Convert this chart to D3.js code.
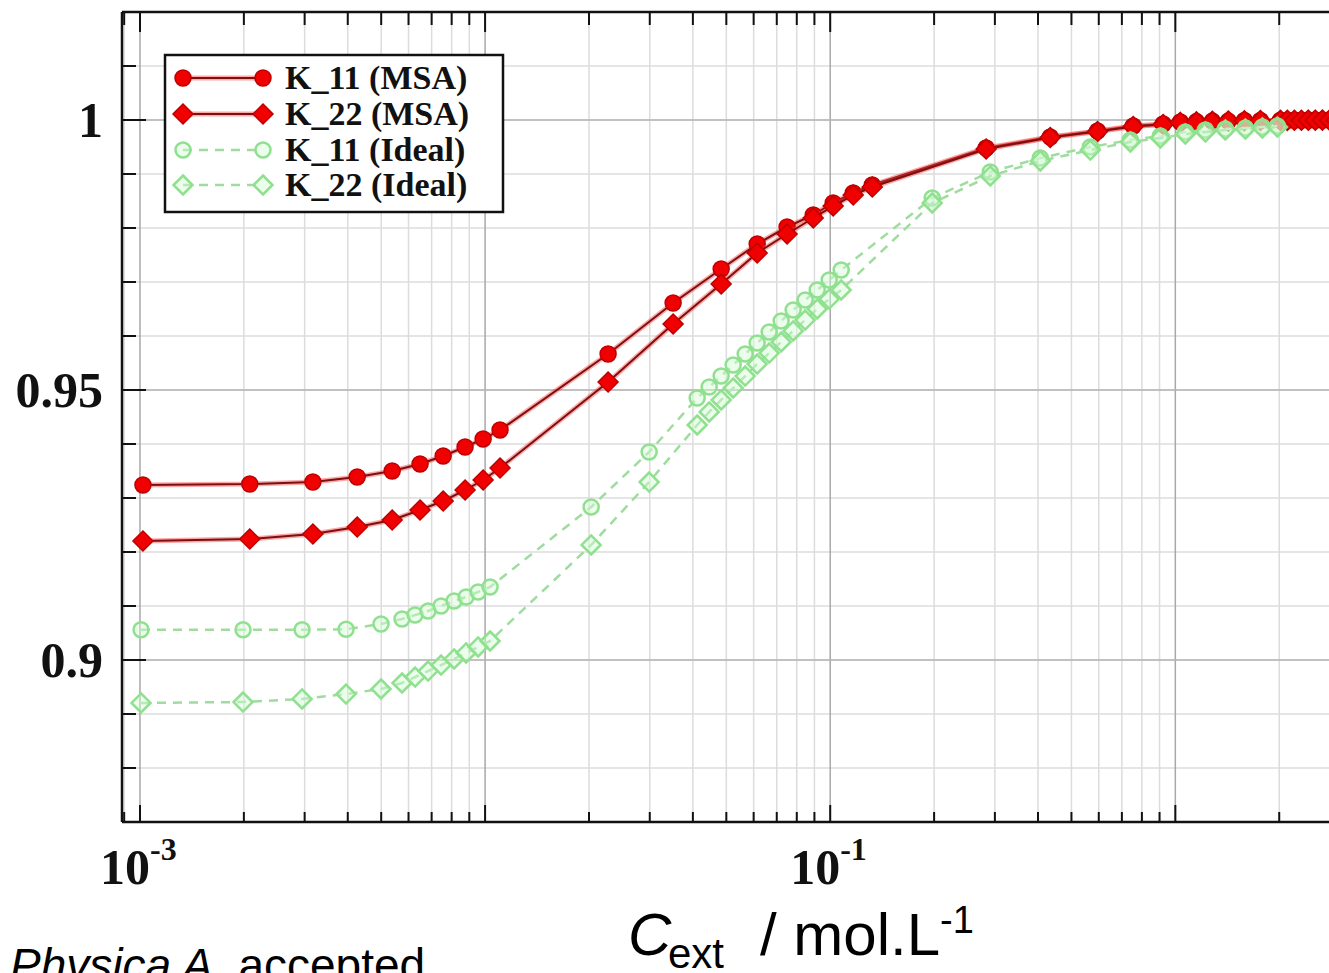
<!DOCTYPE html>
<html>
<head>
<meta charset="utf-8">
<script src="https://cdn.jsdelivr.net/npm/d3@7"></script>
<style>
  html, body { margin: 0; padding: 0; background: #fff; overflow: hidden; }
  svg { display: block; }
</style>
</head>
<body>
<svg id="chart" width="1329" height="973"></svg>
<script>
// ---------- data ----------
const seriesNames = ["K_11 (MSA)", "K_22 (MSA)", "K_11 (Ideal)", "K_22 (Ideal)"];

// external salt concentration (mol/L) for the MSA curves
const cMSA = [0.00102, 0.00208, 0.00317, 0.00426, 0.00538, 0.00648, 0.00756, 0.00875, 0.00987, 0.01105,
  0.02272, 0.03506, 0.04831, 0.06143, 0.0750, 0.0893, 0.1020, 0.1166, 0.1324,
  0.283, 0.434, 0.595, 0.755, 0.922,
  1.034, 1.151, 1.280, 1.424, 1.585, 1.764,
  2.016, 2.111, 2.213, 2.319, 2.429, 2.545, 2.668, 2.795, 2.929];
const k11MSA = [0.93241, 0.93259, 0.93296, 0.93389, 0.935, 0.9363, 0.93778, 0.93944, 0.94093, 0.94259,
  0.95667, 0.96611, 0.97241, 0.97704, 0.98019, 0.98241, 0.98463, 0.98648, 0.98796,
  0.99481, 0.99685, 0.99796, 0.99889, 0.99926,
  0.99963, 0.9997, 0.9998, 0.9998, 0.9999, 0.9999,
  0.99995, 0.99996, 0.99997, 0.99997, 0.99998, 0.99998, 0.99999, 0.99999, 0.99999];
const k22MSA = [0.92204, 0.92241, 0.92333, 0.92463, 0.92593, 0.92778, 0.92944, 0.93148, 0.93333, 0.93556,
  0.95148, 0.96222, 0.96963, 0.97537, 0.97889, 0.98185, 0.98407, 0.98611, 0.98759,
  0.99463, 0.99676, 0.99787, 0.9988, 0.99917,
  0.99955, 0.99965, 0.99975, 0.9998, 0.99985, 0.9999,
  0.99993, 0.99994, 0.99995, 0.99996, 0.99997, 0.99997, 0.99998, 0.99998, 0.99999];

// external salt concentration (mol/L) for the ideal curves
const cIdeal = [0.001007, 0.001989, 0.002949, 0.003955, 0.004994, 0.005745, 0.006268, 0.006836, 0.007456,
  0.008132, 0.008811, 0.009544, 0.010339,
  0.02029, 0.02988,
  0.04117, 0.04460, 0.04831, 0.05234, 0.05670, 0.06142, 0.06654, 0.07209, 0.07809, 0.08460, 0.09169,
  0.09933, 0.10760,
  0.1975, 0.2909, 0.4062, 0.567, 0.7407, 0.905, 1.069, 1.222, 1.396, 1.596, 1.787, 1.976];
const k11Ideal = [0.9056, 0.9056, 0.9056, 0.9057, 0.90667, 0.90759, 0.90833, 0.90907, 0.91, 0.91093,
  0.91167, 0.91259, 0.91352,
  0.92833, 0.93852,
  0.94852, 0.95056, 0.95259, 0.95463, 0.95667, 0.9587, 0.96074, 0.96278, 0.96481, 0.96667, 0.96852,
  0.97037, 0.97222,
  0.98556, 0.99037, 0.99296, 0.995, 0.9963, 0.99704, 0.99778, 0.99815, 0.99833, 0.99852, 0.9987, 0.99889];
const k22Ideal = [0.89204, 0.89222, 0.89278, 0.8937, 0.89463, 0.89574, 0.89685, 0.89796, 0.89907, 0.90019,
  0.9013, 0.90241, 0.90352,
  0.9213, 0.93296,
  0.94352, 0.94593, 0.94815, 0.95037, 0.95259, 0.95481, 0.95685, 0.95889, 0.96093, 0.96296, 0.965,
  0.96685, 0.96852,
  0.98463, 0.98963, 0.99241, 0.99444, 0.99593, 0.99667, 0.99741, 0.99778, 0.99815, 0.99833, 0.99852, 0.9987];

const yTickValues = [0.9, 0.95, 1];
const yTickLabels = ["0.9", "0.95", "1"];
const xLabelExponents = [-3, -1];
const xDomain = [0.000887, 3.0];
const yDomain = [0.87, 1.02];

// ---------- layout ----------
const W = 1329, H = 973;
const plot = { left: 122, right: 1340, top: 12, bottom: 822 };

const svg = d3.select("#chart");
const x = d3.scaleLog().domain(xDomain).range([plot.left, plot.right]);
const y = d3.scaleLinear().domain(yDomain).range([plot.bottom, plot.top]);

// tick positions on the log axis
const xMajor = [];
const xMinor = [];
for (let e = -4; e <= 1; e++) {
  for (let m = 1; m <= 9; m++) {
    const v = m * Math.pow(10, e);
    if (v < xDomain[0] || v > xDomain[1]) continue;
    (m === 1 ? xMajor : xMinor).push(v);
  }
}
const yMinor = d3.range(0, 16).map(i => +(0.87 + i * 0.01).toFixed(2)).filter(v => v <= 1.02);

const serif = "'Liberation Serif','Times New Roman',serif";
const sans = "'Liberation Sans',Arial,sans-serif";

// ---------- grid ----------
const grid = svg.append("g");
grid.selectAll("line.vmin").data(xMinor).join("line")
  .attr("x1", d => x(d)).attr("x2", d => x(d))
  .attr("y1", plot.top).attr("y2", plot.bottom)
  .attr("stroke", "#dcdcdc").attr("stroke-width", 1.5);
grid.selectAll("line.hmin").data(yMinor).join("line")
  .attr("x1", plot.left).attr("x2", plot.right)
  .attr("y1", d => y(d)).attr("y2", d => y(d))
  .attr("stroke", "#dcdcdc").attr("stroke-width", 1.5);
grid.selectAll("line.vmaj").data(xMajor).join("line")
  .attr("x1", d => x(d)).attr("x2", d => x(d))
  .attr("y1", plot.top).attr("y2", plot.bottom)
  .attr("stroke", "#a8a8a8").attr("stroke-width", 1.5);
grid.selectAll("line.hmaj").data(yTickValues).join("line")
  .attr("x1", plot.left).attr("x2", plot.right)
  .attr("y1", d => y(d)).attr("y2", d => y(d))
  .attr("stroke", "#b4b4b4").attr("stroke-width", 1.5);

// ---------- marker shapes ----------
const circlePath = r => `M${-r},0A${r},${r} 0 1,0 ${r},0A${r},${r} 0 1,0 ${-r},0Z`;
const diamondPath = r => `M0,${-r}L${r},0L0,${r}L${-r},0Z`;

const styles = [
  { c: cMSA, v: k11MSA, shape: circlePath(8), kind: "msa" },
  { c: cMSA, v: k22MSA, shape: diamondPath(10), kind: "msa" },
  { c: cIdeal, v: k11Ideal, shape: circlePath(7.5), kind: "ideal" },
  { c: cIdeal, v: k22Ideal, shape: diamondPath(9.5), kind: "ideal" }
];

const line = d3.line().x(d => x(d[0])).y(d => y(d[1]));

const dataG = svg.append("g");

function drawSeries(s) {
  const pts = s.c.map((c, i) => [c, s.v[i]]);
  const g = dataG.append("g");
  if (s.kind === "msa") {
    g.append("path").datum(pts).attr("d", line)
      .attr("fill", "none").attr("stroke", "rgba(255,60,60,0.45)").attr("stroke-width", 5);
    g.append("path").datum(pts).attr("d", line)
      .attr("fill", "none").attr("stroke", "#7a1010").attr("stroke-width", 2);
    g.selectAll("path.m").data(pts).join("path")
      .attr("transform", d => `translate(${x(d[0])},${y(d[1])})`)
      .attr("d", s.shape)
      .attr("fill", "#f00000").attr("stroke", "#c00000").attr("stroke-width", 1.5);
  } else {
    g.append("path").datum(pts).attr("d", line)
      .attr("fill", "none").attr("stroke", "#9fdc9f").attr("stroke-width", 2.5)
      .attr("stroke-dasharray", "9,7");
    g.selectAll("path.m").data(pts).join("path")
      .attr("transform", d => `translate(${x(d[0])},${y(d[1])})`)
      .attr("d", s.shape)
      .attr("fill", "rgba(210,250,210,0.45)").attr("stroke", "#8fe08f").attr("stroke-width", 2.5);
  }
}
styles.forEach(drawSeries);

// ---------- frame and ticks ----------
const axes = svg.append("g").attr("stroke", "#111");
axes.append("line").attr("x1", plot.left).attr("x2", plot.right).attr("y1", plot.top).attr("y2", plot.top).attr("stroke-width", 2.5);
axes.append("line").attr("x1", plot.left).attr("x2", plot.right).attr("y1", plot.bottom).attr("y2", plot.bottom).attr("stroke-width", 2.5);
axes.append("line").attr("x1", plot.left).attr("x2", plot.left).attr("y1", plot.top).attr("y2", plot.bottom).attr("stroke-width", 2.5);
axes.append("line").attr("x1", plot.right).attr("x2", plot.right).attr("y1", plot.top).attr("y2", plot.bottom).attr("stroke-width", 2.5);

const xTicks = xMajor.map(v => ({ v, len: 17 })).concat(xMinor.map(v => ({ v, len: 10 })));
axes.selectAll("line.xb").data(xTicks).join("line")
  .attr("x1", d => x(d.v)).attr("x2", d => x(d.v))
  .attr("y1", plot.bottom).attr("y2", d => plot.bottom - d.len).attr("stroke-width", 2);
axes.selectAll("line.xt").data(xTicks).join("line")
  .attr("x1", d => x(d.v)).attr("x2", d => x(d.v))
  .attr("y1", plot.top).attr("y2", d => plot.top + d.len + 3).attr("stroke-width", 2);
const yTicks = yMinor.map(v => ({ v, len: yTickValues.some(t => Math.abs(t - v) < 1e-9) ? 24 : 14 }));
axes.selectAll("line.yl").data(yTicks).join("line")
  .attr("x1", plot.left).attr("x2", d => plot.left + d.len)
  .attr("y1", d => y(d.v)).attr("y2", d => y(d.v)).attr("stroke-width", 2);

// y tick labels
svg.append("g").selectAll("text").data(yTickValues).join("text")
  .attr("x", 103).attr("y", d => y(d) + 17)
  .attr("text-anchor", "end")
  .attr("font-family", serif).attr("font-weight", "bold").attr("font-size", 50)
  .attr("fill", "#111")
  .text((d, i) => yTickLabels[i]);

// x tick labels: 10 with superscript exponent
const xl = svg.append("g").selectAll("text").data(xLabelExponents).join("text")
  .attr("x", d => x(Math.pow(10, d)) - 40).attr("y", 884)
  .attr("font-family", serif).attr("font-weight", "bold").attr("font-size", 50)
  .attr("fill", "#111");
xl.append("tspan").text("10");
xl.append("tspan").attr("dy", -24).attr("font-size", 32).text(d => String(d).replace("-", "-"));

// axis title
const title = svg.append("text").attr("y", 955).attr("font-family", sans).attr("font-size", 60).attr("fill", "#000");
title.append("tspan").attr("x", 628).attr("font-style", "italic").text("C");
title.append("tspan").attr("x", 668).attr("dy", 13).attr("font-size", 42).text("ext");
title.append("tspan").attr("x", 760).attr("dy", -13).text("/ mol.L");
title.append("tspan").attr("dy", -22).attr("font-size", 38).text("-1");

// citation note
const note = svg.append("text").attr("x", 10).attr("y", 981).attr("font-family", sans).attr("font-size", 46).attr("fill", "#000");
note.append("tspan").attr("font-style", "italic").text("Physica A");
note.append("tspan").text(", accepted");

// ---------- legend ----------
const legend = svg.append("g");
legend.append("rect").attr("x", 165).attr("y", 55).attr("width", 338).attr("height", 157)
  .attr("fill", "#fff").attr("stroke", "#111").attr("stroke-width", 2.5);
const rowY = [78, 114, 150, 185];
seriesNames.forEach((name, i) => {
  const s = styles[i];
  const cy = rowY[i];
  const g = legend.append("g");
  if (s.kind === "msa") {
    g.append("line").attr("x1", 183).attr("x2", 263).attr("y1", cy).attr("y2", cy)
      .attr("stroke", "rgba(255,60,60,0.45)").attr("stroke-width", 5);
    g.append("line").attr("x1", 183).attr("x2", 263).attr("y1", cy).attr("y2", cy)
      .attr("stroke", "#7a1010").attr("stroke-width", 2);
    [183, 263].forEach(px => g.append("path").attr("transform", `translate(${px},${cy})`).attr("d", s.shape)
      .attr("fill", "#f00000").attr("stroke", "#c00000").attr("stroke-width", 1.5));
  } else {
    g.append("line").attr("x1", 183).attr("x2", 263).attr("y1", cy).attr("y2", cy)
      .attr("stroke", "#9fdc9f").attr("stroke-width", 2.5).attr("stroke-dasharray", "9,7");
    [183, 263].forEach(px => g.append("path").attr("transform", `translate(${px},${cy})`).attr("d", s.shape)
      .attr("fill", "rgba(210,250,210,0.45)").attr("stroke", "#8fe08f").attr("stroke-width", 2.5));
  }
  g.append("text").attr("x", 285).attr("y", cy + 11)
    .attr("font-family", serif).attr("font-weight", "bold").attr("font-size", 34)
    .attr("fill", "#111").text(name);
});
</script>
</body>
</html>
